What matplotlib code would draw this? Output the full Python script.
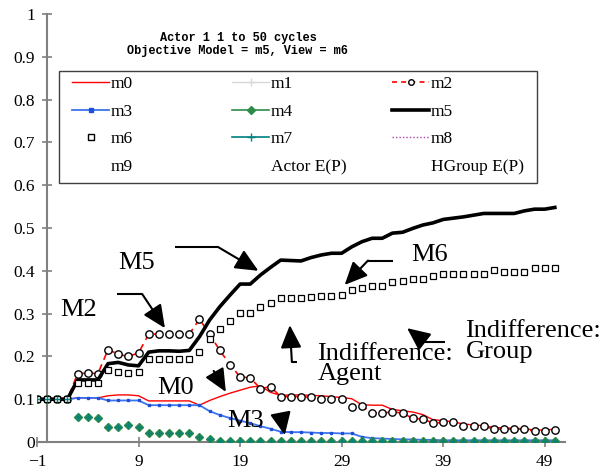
import matplotlib
matplotlib.use("Agg")
import matplotlib.pyplot as plt
from matplotlib.lines import Line2D
from matplotlib.legend import Legend
from matplotlib.patches import Rectangle

# ================================
# data: one value per cycle, cycles -1 .. 50
# ================================
cycles = list(range(-1, 51))

m0 = [0.1, 0.1, 0.1, 0.1, 0.103, 0.103, 0.103, 0.108, 0.110, 0.110, 0.108,
      0.096, 0.096, 0.096, 0.096, 0.096, 0.086, 0.097, 0.106, 0.114, 0.121,
      0.128, 0.131, 0.116, 0.109, 0.110, 0.110, 0.109, 0.108, 0.106, 0.104,
      0.101, 0.087, 0.086, 0.086, 0.076, 0.073, 0.070, 0.064, 0.052, 0.050,
      0.047, 0.042, 0.040, 0.038, 0.034, 0.033, 0.032, 0.031, 0.028, 0.028,
      0.030]

m2 = [0.1, 0.1, 0.1, 0.1, 0.160, 0.161, 0.160, 0.216, 0.205, 0.200, 0.208,
      0.252, 0.252, 0.252, 0.252, 0.252, 0.287, 0.252, 0.214, 0.181, 0.152,
      0.150, 0.125, 0.129, 0.106, 0.106, 0.106, 0.104, 0.101, 0.101, 0.101,
      0.082, 0.084, 0.068, 0.068, 0.070, 0.068, 0.055, 0.054, 0.044, 0.046,
      0.046, 0.037, 0.037, 0.037, 0.030, 0.030, 0.030, 0.030, 0.025, 0.025,
      0.028]

m3 = [0.1, 0.1, 0.1, 0.1, 0.103, 0.103, 0.103, 0.097, 0.097, 0.097, 0.097,
      0.086, 0.086, 0.086, 0.086, 0.086, 0.086, 0.072, 0.063, 0.056, 0.050,
      0.044, 0.037, 0.031, 0.024, 0.023, 0.023, 0.022, 0.021, 0.021, 0.020,
      0.020, 0.012, 0.009, 0.008, 0.007, 0.006, 0.006, 0.005, 0.005, 0.004,
      0.004, 0.004, 0.004, 0.004, 0.004, 0.004, 0.004, 0.004, 0.004, 0.004,
      0.004]

m4 = [0.1, 0.1, 0.1, 0.1, 0.058, 0.058, 0.056, 0.034, 0.036, 0.040, 0.036,
      0.022, 0.022, 0.022, 0.022, 0.022, 0.012, 0.007, 0.003, 0.002, 0.002,
      0.002, 0.002, 0.002, 0.002, 0.002, 0.002, 0.002, 0.002, 0.002, 0.002,
      0.002, 0.002, 0.002, 0.002, 0.002, 0.002, 0.002, 0.002, 0.002, 0.002,
      0.002, 0.002, 0.002, 0.002, 0.002, 0.002, 0.002, 0.002, 0.002, 0.002,
      0.002]

m5 = [0.1, 0.1, 0.1, 0.1, 0.145, 0.145, 0.145, 0.183, 0.186, 0.180, 0.178,
      0.210, 0.213, 0.213, 0.212, 0.214, 0.246, 0.285, 0.316, 0.343, 0.369,
      0.369, 0.390, 0.408, 0.425, 0.424, 0.423, 0.431, 0.437, 0.441, 0.441,
      0.456, 0.468, 0.476, 0.476, 0.488, 0.490, 0.499, 0.507, 0.512, 0.520,
      0.523, 0.526, 0.530, 0.534, 0.534, 0.534, 0.534, 0.540, 0.544, 0.544,
      0.548]

m6 = [0.1, 0.1, 0.1, 0.1, 0.138, 0.138, 0.138, 0.168, 0.163, 0.162, 0.164,
      0.194, 0.194, 0.194, 0.194, 0.194, 0.211, 0.240, 0.264, 0.283, 0.302,
      0.302, 0.316, 0.325, 0.337, 0.336, 0.336, 0.338, 0.340, 0.342, 0.343,
      0.355, 0.359, 0.365, 0.365, 0.375, 0.376, 0.380, 0.382, 0.388, 0.393,
      0.393, 0.393, 0.393, 0.393, 0.402, 0.398, 0.398, 0.398, 0.406, 0.406,
      0.406]

m7 = [0.1, 0.1, 0.1, 0.1, 0.058, 0.058, 0.056, 0.034, 0.036, 0.040, 0.036,
      0.022, 0.022, 0.022, 0.022, 0.022, 0.012, 0.007, 0.003, 0.002, 0.002,
      0.002, 0.002, 0.002, 0.002, 0.002, 0.002, 0.002, 0.002, 0.002, 0.002,
      0.002, 0.002, 0.002, 0.002, 0.002, 0.002, 0.002, 0.002, 0.002, 0.002,
      0.002, 0.002, 0.002, 0.002, 0.002, 0.002, 0.002, 0.002, 0.002, 0.002,
      0.002]

x_ticks = [-1, 9, 19, 29, 39, 49]
y_ticks = [0, 0.1, 0.2, 0.3, 0.4, 0.5, 0.6, 0.7, 0.8, 0.9, 1]
y_tick_labels = ["0", "0.1", "0.2", "0.3", "0.4", "0.5", "0.6", "0.7", "0.8", "0.9", "1"]

SERIF = "Liberation Serif"
RED = "#ff0000"
BLUE = "#3a74f0"
GREEN = "#2e8b4a"
TEAL = "#008080"
GRAY = "#808080"

# ================================
# figure / axes
# ================================
fig = plt.figure(figsize=(6.14, 4.73), dpi=100)
ax = fig.add_axes([37 / 614, 31 / 473, 528 / 614, 428 / 473])
ax.set_xlim(-1, 51)
ax.set_ylim(0, 1)

ax.plot(cycles, m0, color=RED, lw=1.0, zorder=3)
ax.plot(cycles, m2, color=RED, lw=1.2, ls=(0, (4, 3)), marker="o", ms=5.3,
        mfc="white", mec="black", mew=1.0, zorder=4)
ax.plot(cycles, m3, color=BLUE, lw=1.3, marker="s", ms=2, mfc="#1d4fd8",
        mec="#1d4fd8", zorder=3)
ax.plot(cycles, m4, ls="none", marker="D", ms=4.5, color=GREEN, zorder=4)
ax.plot(cycles, m5, color="black", lw=2.6, zorder=5)
ax.plot(cycles, m6, ls="none", marker="s", ms=5, mfc="white", mec="black",
        mew=0.9, zorder=5)
ax.plot(cycles, m7, ls="none", marker="+", ms=5, mew=1.0, color=TEAL, zorder=6)

# axes styling (y axis crosses at cycle 0)
for side in ["top", "right"]:
    ax.spines[side].set_visible(False)
ax.spines["left"].set_position(("data", 0))
for side in ["left", "bottom"]:
    ax.spines[side].set_color(GRAY)
    ax.spines[side].set_linewidth(1.5)
    ax.spines[side].set_zorder(1)

ax.set_xticks(x_ticks)
ax.set_yticks(y_ticks)
ax.set_yticklabels(y_tick_labels)
ax.tick_params(direction="inout", length=7, width=1.2, color=GRAY,
               labelsize=12.5, pad=5)
for lab in ax.get_xticklabels() + ax.get_yticklabels():
    lab.set_family(SERIF)

# ================================
# legend: fixed-width columns, row order m0 m1 m2 / m3 m4 m5 / ...
# ================================
blank = dict(ls="none", marker=None)
h = {
    "m0": Line2D([], [], color=RED, lw=1.0),
    "m1": Line2D([], [], color="#d8d8d8", lw=1.0, marker="+", ms=6),
    "m2": Line2D([], [], color=RED, lw=1.2, ls=(0, (3, 2.5)), marker="o", ms=4,
                 mfc="white", mec="black"),
    "m3": Line2D([], [], color=BLUE, lw=1.3, marker="s", ms=3, mfc="#1d4fd8",
                 mec="#1d4fd8"),
    "m4": Line2D([], [], color=GREEN, lw=1.2, marker="D", ms=4),
    "m5": Line2D([], [], color="black", lw=2.6),
    "m6": Line2D([], [], ls="none", marker="s", ms=5, mfc="white", mec="black"),
    "m7": Line2D([], [], color=TEAL, lw=1.2, marker="+", ms=6),
    "m8": Line2D([], [], color="#b040b0", lw=1.0, ls=(0, (1, 1.5))),
    "m9": Line2D([], [], **blank),
    "Actor E(P)": Line2D([], [], **blank),
    "HGroup E(P)": Line2D([], [], **blank),
}
columns = [["m0", "m3", "m6", "m9"],
           ["m1", "m4", "m7", "Actor E(P)"],
           ["m2", "m5", "m8", "HGroup E(P)"]]
col_x = [0.0672, 0.3702, 0.6732]

ax.add_patch(Rectangle((0.0417, 0.605), 0.9053, 0.262, transform=ax.transAxes,
                       facecolor="white", edgecolor="#404040", lw=1.0,
                       zorder=9))
for names, x0 in zip(columns, col_x):
    leg = Legend(ax, [h[k] for k in names], names, loc="upper left",
                 bbox_to_anchor=(x0, 0.855), frameon=False,
                 prop={"family": SERIF, "size": 12.5}, handlelength=2.1,
                 handletextpad=0.1, labelspacing=0.66, borderaxespad=0,
                 borderpad=0)
    leg.set_zorder(10)
    ax.add_artist(leg)

# ================================
# title
# ================================
fig.text(0.388, 0.920, "Actor 1 1 to 50 cycles", ha="center", va="center",
         family="Liberation Mono", weight="bold", fontsize=8.6)
fig.text(0.386, 0.892, "Objective Model = m5, View = m6", ha="center",
         va="center", family="Liberation Mono", weight="bold", fontsize=8.6)

# ================================
# labels with arrows
# ================================
def arrow(points):
    xs = [p[0] for p in points[:-1]]
    ys = [p[1] for p in points[:-1]]
    if len(points) > 2:
        ax.plot(xs, ys, color="black", lw=1.5, zorder=7, solid_capstyle="butt")
    ax.annotate("", xy=points[-1], xytext=points[-2],
                arrowprops=dict(arrowstyle="-|>,head_length=0.7,head_width=0.32",
                                color="black", lw=1.5, mutation_scale=20,
                                shrinkA=0, shrinkB=0), zorder=7)

txt = dict(family=SERIF, fontsize=19, zorder=8)

ax.text(8.85, 0.418, "M5", ha="center", va="center", **txt)
# bottom edge of the M5 label sits under a white strip
ax.add_patch(Rectangle((6.5, 0.394), 5.0, 0.008, facecolor="white",
                       edgecolor="none", zorder=8.5))
arrow([(12.6, 0.456), (16.8, 0.456), (20.8, 0.40)])

ax.text(3.1, 0.308, "M2", ha="center", va="center", **txt)
arrow([(6.9, 0.346), (9.35, 0.346), (11.6, 0.266)])

ax.text(37.7, 0.437, "M6", ha="center", va="center", **txt)
arrow([(34.1, 0.424), (31.6, 0.424), (29.3, 0.367)])

ax.text(41.2, 0.284, "Indifference:\nGroup", ha="left", va="top",
        linespacing=0.9, **txt)
arrow([(39.2, 0.234), (37.2, 0.234), (35.45, 0.266)])

ax.text(26.6, 0.231, "Indifference:\nAgent", ha="left", va="top",
        linespacing=0.9, **txt)
arrow([(24.6, 0.187), (24.1, 0.187), (23.9, 0.273)])

ax.text(12.6, 0.126, "M0", ha="center", va="center", **txt)
arrow([(16.4, 0.166), (17.6, 0.117)])

ax.text(19.5, 0.049, "M3", ha="center", va="center", **txt)
arrow([(23.0, 0.065), (23.4, 0.016)])

fig.savefig("out.png", dpi=100)
